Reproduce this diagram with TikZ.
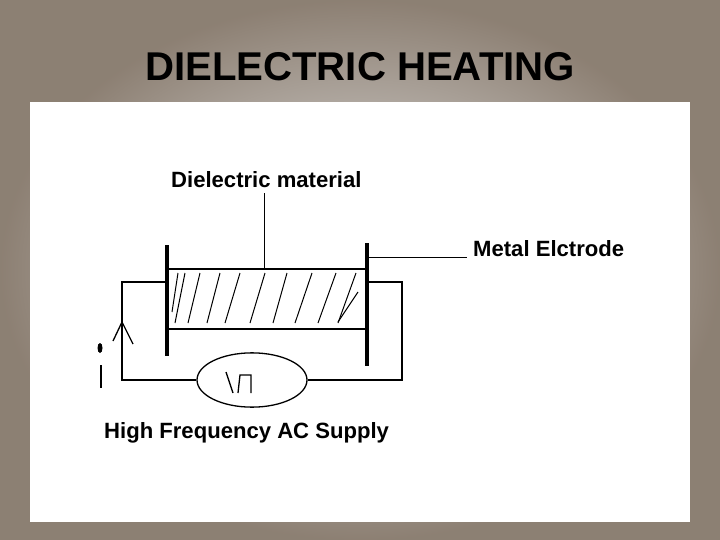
\documentclass[tikz,border=0pt]{standalone}
\usepackage{fontspec}
\setmainfont{Liberation Sans}
\usetikzlibrary{shapes.geometric}
\begin{document}
\begin{tikzpicture}%
        [x=0.035cm, y=-0.035cm,
        wire/.style={color=black, line width=1.3pt},
        electrode/.style={color=black, line width=4.5pt},
        hatch/.style={color=black, line width=1pt},
        lbl/.style={font=\bfseries\fontsize{22}{24}\selectfont, anchor=west, inner sep=0pt}]
    %% Background and panel
    \shade[inner color=gray!20!white, outer color=gray!80!brown] (0,0) rectangle (720,540);
    \fill[white] (30,102) rectangle (690,522);
    \useasboundingbox (0,0) rectangle (720,540);
    \node[font=\bfseries\fontsize{40}{44}\selectfont, inner sep=0pt] (title) at (360,67) {DIELECTRIC HEATING};
    %% Electrodes and material
    \coordinate (eltop) at (167,245);
    \coordinate (elbot) at (167,356);
    \coordinate (ertop) at (367,243);
    \coordinate (erbot) at (367,366);
    \draw[wire] (167,269) rectangle (367,329);
    \foreach \xa/\xb in {175/185, 188/200, 207/220, 225/240, 250/265, 273/287, 295/312, 318/336, 338/356}
        \draw[hatch] (\xa,323) -- (\xb,273);
    \draw[hatch] (172,312) -- (178,273);
    \draw[hatch] (338,322) -- (358,292);
    \draw[electrode] (eltop) -- (elbot);
    \draw[electrode] (ertop) -- (erbot);
    %% Labels and leaders
    \node[lbl] (dlabel) at (171,180) {Dielectric material};
    \node[lbl] (mlabel) at (473,249) {Metal Elctrode};
    \coordinate (dfoot) at (264,269);
    \coordinate (mfoot) at (369,257);
    \draw[wire, line width=1pt] (264,193) -- (dfoot);
    \draw[wire, line width=1pt] (mfoot) -- (467,257);
    %% Circuit
    \node[draw, wire, ellipse, inner sep=0pt,
          minimum width=3.85cm, minimum height=1.9cm] (supply) at (252,380) {};
    \draw[wire] (167,282) -- (122,282) -- (122,380) -- (supply.west);
    \draw[wire] (367,282) -- (402,282) -- (402,380) -- (supply.east);
    \draw[wire] (226,372) -- (233,393) (238,393) -- (240,375) -- (251,375) -- (251,393);
    %% Switch mark
    \draw[wire] (113,341) -- (122,322) -- (133,344);
    \fill (100,348) ellipse (2.5 and 5);
    \draw[wire] (101,365) -- (101,388);
    \node[lbl] (slabel) at (104,433) {High Frequency AC Supply};
\end{tikzpicture}
\end{document}
